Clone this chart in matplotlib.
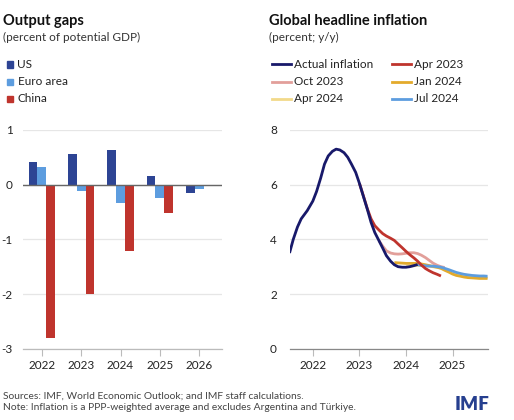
import numpy as np
import matplotlib
matplotlib.use("Agg")
import matplotlib.pyplot as plt
from matplotlib.lines import Line2D
from matplotlib.patches import Rectangle

plt.rcParams['font.family'] = ['Lato', 'DejaVu Sans']
plt.rcParams['axes.unicode_minus'] = False

# ---- left panel: output gaps ----
gap_years = [2022, 2023, 2024, 2025, 2026]
gap_us = [0.42, 0.56, 0.63, 0.15, -0.16]
gap_euro = [0.33, -0.11, -0.34, -0.25, -0.08]
gap_china = [-2.80, -2.00, -1.21, -0.51, 0.0]

# ---- right panel: global headline inflation (decimal years) ----
actual_t = [2021.50, 2021.58, 2021.67, 2021.75, 2021.88, 2022.00, 2022.08, 2022.17,
            2022.25, 2022.33, 2022.42, 2022.50, 2022.58, 2022.67, 2022.75, 2022.83,
            2022.92, 2023.00, 2023.08, 2023.17, 2023.25, 2023.33, 2023.42, 2023.50,
            2023.58, 2023.67, 2023.75, 2023.83, 2023.92, 2024.00, 2024.08, 2024.17,
            2024.25]
actual_v = [3.50, 4.00, 4.45, 4.75, 5.05, 5.40, 5.75, 6.25,
            6.75, 7.05, 7.22, 7.30, 7.27, 7.17, 7.00, 6.75,
            6.45, 6.05, 5.60, 5.10, 4.62, 4.25, 3.95, 3.68,
            3.40, 3.20, 3.07, 3.00, 2.98, 2.98, 3.00, 3.04,
            3.08]

apr23_t = [2023.00, 2023.08, 2023.17, 2023.25, 2023.33, 2023.42, 2023.50, 2023.58,
           2023.67, 2023.75, 2023.83, 2023.92, 2024.00, 2024.08, 2024.17, 2024.25,
           2024.33, 2024.42, 2024.50, 2024.58, 2024.67, 2024.75]
apr23_v = [6.05, 5.62, 5.12, 4.75, 4.50, 4.34, 4.21, 4.12,
           4.04, 3.96, 3.83, 3.69, 3.56, 3.44, 3.32, 3.20,
           3.06, 2.93, 2.85, 2.78, 2.72, 2.66]

oct23_t = [2023.42, 2023.50, 2023.58, 2023.67, 2023.75, 2023.83, 2023.92, 2024.00,
           2024.08, 2024.17, 2024.25, 2024.33, 2024.42, 2024.50, 2024.58, 2024.67,
           2024.75, 2024.83]
oct23_v = [3.95, 3.75, 3.58, 3.50, 3.47, 3.46, 3.47, 3.49,
           3.51, 3.51, 3.48, 3.42, 3.33, 3.23, 3.13, 3.05,
           3.00, 2.97]

jan24_t = [2023.75, 2023.83, 2023.92, 2024.00, 2024.08, 2024.17, 2024.25, 2024.33,
           2024.42, 2024.50, 2024.58, 2024.67, 2024.75, 2024.83, 2024.92, 2025.00,
           2025.08, 2025.17, 2025.25, 2025.33, 2025.42, 2025.50, 2025.58, 2025.67,
           2025.75]
jan24_v = [3.15, 3.14, 3.13, 3.12, 3.12, 3.12, 3.12, 3.10,
           3.07, 3.04, 3.01, 2.98, 2.94, 2.87, 2.80, 2.73,
           2.68, 2.65, 2.62, 2.60, 2.59, 2.58, 2.57, 2.57,
           2.57]

apr24_t = [2024.00, 2024.25, 2024.50, 2024.75, 2025.00, 2025.25, 2025.50, 2025.75]
apr24_v = [3.00, 3.05, 3.02, 2.95, 2.78, 2.67, 2.62, 2.60]

jul24_t = [2024.25, 2024.33, 2024.42, 2024.50, 2024.58, 2024.67, 2024.75, 2024.83,
           2024.92, 2025.00, 2025.08, 2025.17, 2025.25, 2025.33, 2025.42, 2025.50,
           2025.58, 2025.67, 2025.75]
jul24_v = [3.07, 3.05, 3.03, 3.02, 3.02, 3.00, 2.98, 2.94,
           2.89, 2.84, 2.79, 2.75, 2.72, 2.70, 2.68, 2.67,
           2.66, 2.66, 2.65]

infl_ticks = [2022, 2023, 2024, 2025]

C_US = '#2d4494'
C_EURO = '#5d9ddf'
C_CHINA = '#bf342d'
C_NAVY = '#18196a'
C_PINK = '#e29f9a'
C_GOLD = '#e3aa2c'
C_PALE = '#f2d98a'
TXT = '#222222'
GRID = '#e6e6e6'

W, H = 514, 420
fig = plt.figure(figsize=(W / 100, H / 100), dpi=100)


def fx(px):
    return px / W


def fy(py):
    return 1 - py / H


def style_axes(ax, ypad):
    for s in ['top', 'right', 'left']:
        ax.spines[s].set_visible(False)
    ax.spines['bottom'].set_color('#bbbbbb')
    ax.spines['bottom'].set_linewidth(0.9)
    ax.grid(axis='y', color=GRID, linewidth=0.9)
    ax.set_axisbelow(True)
    ax.tick_params(axis='y', length=0, pad=ypad, labelsize=8.5, labelcolor=TXT)
    ax.tick_params(axis='x', length=5, width=0.8, color='#bbbbbb', pad=3,
                   labelsize=8.5, labelcolor=TXT)


# left axes
ax1 = fig.add_axes([fx(23), fy(348.7), fx(222) - fx(23), fy(130) - fy(348.7)])
x = np.array(gap_years, dtype=float)
bw = 0.225
ax1.bar(x - bw, gap_us, bw, color=C_US)
ax1.bar(x, gap_euro, bw, color=C_EURO)
ax1.bar(x + bw, gap_china, bw, color=C_CHINA)
ax1.axhline(0, color='#666666', linewidth=1.0, zorder=3)
ax1.set_xlim(2021.52, 2026.58)
ax1.set_ylim(-3, 1)
ax1.set_yticks([-3, -2, -1, 0, 1])
ax1.set_xticks(gap_years)
style_axes(ax1, 7.5)

# right axes
ax2 = fig.add_axes([fx(290), fy(348.7), fx(488) - fx(290), fy(130) - fy(348.7)])
lw = 2.0
ax2.plot(apr24_t, apr24_v, color=C_PALE, lw=lw, solid_capstyle='butt')
ax2.plot(oct23_t, oct23_v, color=C_PINK, lw=lw, solid_capstyle='butt')
ax2.plot(jan24_t, jan24_v, color=C_GOLD, lw=lw, solid_capstyle='butt')
ax2.plot(jul24_t, jul24_v, color=C_EURO, lw=lw, solid_capstyle='butt')
ax2.plot(apr23_t, apr23_v, color=C_CHINA, lw=lw, solid_capstyle='butt')
ax2.plot(actual_t, actual_v, color=C_NAVY, lw=lw, solid_capstyle='butt')
ax2.set_xlim(2021.51, 2025.76)
ax2.set_ylim(0, 8)
ax2.set_yticks([0, 2, 4, 6, 8])
ax2.set_xticks(infl_ticks)
style_axes(ax2, 9.5)
ax2.spines['bottom'].set_color('#888888')

# titles
fig.text(fx(3), fy(21), 'Output gaps', fontsize=10.5, fontweight='bold',
         color='#111111', va='center')
fig.text(fx(3), fy(37), '(percent of potential GDP)', fontsize=8.5,
         color='#333333', va='center')
fig.text(fx(269), fy(21), 'Global headline inflation', fontsize=10.5,
         fontweight='bold', color='#111111', va='center')
fig.text(fx(269), fy(37), '(percent; y/y)', fontsize=8.5,
         color='#333333', va='center')

# left legend
rows = [64.3, 81.7, 99.0]
for (lab, col), ry in zip([('US', C_US), ('Euro area', C_EURO), ('China', C_CHINA)], rows):
    fig.add_artist(Rectangle((fx(6.5), fy(ry + 3.3)), fx(6.5), fy(0) - fy(6.5),
                             color=col, transform=fig.transFigure))
    fig.text(fx(17.5), fy(ry), lab, fontsize=8.5, color=TXT, va='center')

# right legend
leg = [('Actual inflation', C_NAVY, 272, 294, 64.3),
       ('Apr 2023', C_CHINA, 392, 413.5, 64.3),
       ('Oct 2023', C_PINK, 272, 294, 81.7),
       ('Jan 2024', C_GOLD, 392, 413.5, 81.7),
       ('Apr 2024', C_PALE, 272, 294, 99.0),
       ('Jul 2024', C_EURO, 392, 413.5, 99.0)]
for lab, col, lx, tx, ry in leg:
    fig.add_artist(Line2D([fx(lx), fx(lx + 18.5)], [fy(ry), fy(ry)], color=col,
                          lw=2.0, transform=fig.transFigure))
    fig.text(fx(tx), fy(ry), lab, fontsize=8.5, color=TXT, va='center')

# footnotes
fig.text(fx(3), fy(396), 'Sources: IMF, World Economic Outlook; and IMF staff calculations.',
         fontsize=7.4, color='#444444', va='center')
fig.text(fx(3), fy(408), 'Note: Inflation is a PPP-weighted average and excludes Argentina and Türkiye.',
         fontsize=7.4, color='#444444', va='center')
fig.text(fx(489), fy(404.5), 'IMF', fontsize=13.5, fontweight='heavy',
         color='#263f8f', va='center', ha='right')

fig.savefig('out.png', dpi=100)
